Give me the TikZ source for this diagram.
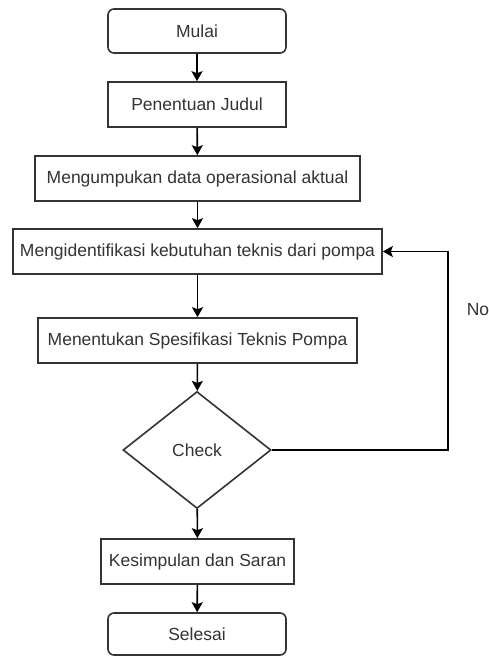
\documentclass[tikz,border=0pt]{standalone}
\usepackage{fontspec}
\setmainfont{Liberation Sans}
\usepackage{tikz}
\usetikzlibrary{arrows.meta,shapes.geometric}
\usepackage{xcolor}

\begin{document}
\begin{tikzpicture}[x=1pt,y=-1pt,>={Stealth[length=10pt,width=11pt,inset=2pt]},
  font=\fontsize{17.5}{21}\selectfont,line width=1.6pt,
  every node/.style={text=black!80},
  terminal/.style={draw=black!80,rounded corners=6pt,minimum width=178pt,minimum height=44pt,inner sep=0pt},
  process/.style={draw=black!80,minimum height=45pt,inner sep=0pt},
  decision/.style={draw=black!80,diamond,minimum width=148pt,minimum height=117pt,inner sep=0pt},
  flow/.style={->,draw=black}]
\useasboundingbox (0,0) rectangle (489,656);
\node[terminal] (mulai) at (197,31) {Mulai};
\node[process,minimum width=178pt] (judul) at (197,104.5) {Penentuan Judul};
\node[process,minimum width=325pt] (data) at (197.5,178.5) {Mengumpukan data operasional aktual};
\node[process,minimum width=369pt] (identifikasi) at (197.5,251.5) {Mengidentifikasi kebutuhan teknis dari pompa};
\node[process,minimum width=319pt] (spesifikasi) at (197.5,340.5) {Menentukan Spesifikasi Teknis Pompa};
\node[decision] (check) at (197,450) {Check};
\node[process,minimum width=193pt] (simpulan) at (197.5,561.5) {Kesimpulan dan Saran};
\node[terminal,minimum height=42pt] (selesai) at (197,634) {Selesai};
\coordinate (loop) at (448,450);
\node (no) at (478,310) {No};
% alur utama
\draw[flow] (mulai) -- (judul);
\draw[flow] (judul) -- (data);
\draw[flow] (data) -- (identifikasi);
\draw[flow] (identifikasi) -- (spesifikasi);
\draw[flow] (spesifikasi) -- (check);
\draw[flow] (check) -- (simpulan);
\draw[flow] (simpulan) -- (selesai);
% kembali jika belum sesuai
\draw[flow] (check.east) -- (loop) |- (identifikasi.east);
\end{tikzpicture}
\end{document}
